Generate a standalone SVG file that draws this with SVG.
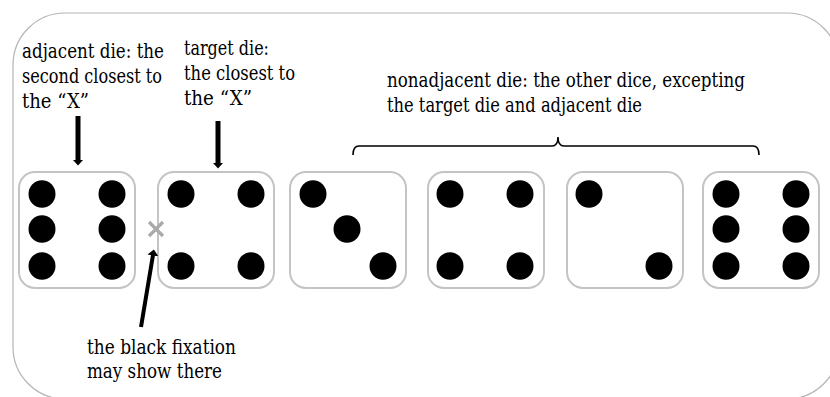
<svg xmlns="http://www.w3.org/2000/svg" width="830" height="397" viewBox="0 0 830 397">
<defs>
<style>
.frame{fill:#fff;stroke:#b4b4b4;stroke-width:1.2}
.die{fill:#fff;stroke:#c4c4c4;stroke-width:2}
.pip{fill:#000}
.lbl{font-family:"DejaVu Serif Condensed","DejaVu Serif",serif;font-stretch:condensed;font-size:21px;fill:#000}
.arr{stroke:#000;stroke-width:5;fill:none}
.arr2{stroke:#000;stroke-width:4;fill:none}
.brace{stroke:#000;stroke-width:1.6;fill:none}
.xmark{stroke:#aaa;stroke-width:3.2;fill:none}
</style>
<marker id="head" viewBox="0 0 6 11" markerWidth="6" markerHeight="11" refX="0.5" refY="5.5" orient="auto" markerUnits="userSpaceOnUse">
<path d="M0,0 L6,5.5 L0,11 z" fill="#000"/>
</marker>
</defs>
<rect class="frame" x="13" y="13" width="826" height="386" rx="52" ry="52"/>

<g id="die-adjacent">
<rect class="die" x="19" y="172" width="116" height="116" rx="16"/>
<ellipse class="pip" cx="42" cy="194" rx="13.5" ry="13.8"/>
<ellipse class="pip" cx="112" cy="194" rx="13.5" ry="13.8"/>
<ellipse class="pip" cx="42" cy="229" rx="13.5" ry="13.8"/>
<ellipse class="pip" cx="112" cy="229" rx="13.5" ry="13.8"/>
<ellipse class="pip" cx="42" cy="266" rx="13.5" ry="13.8"/>
<ellipse class="pip" cx="112" cy="266" rx="13.5" ry="13.8"/>
</g>

<g id="die-target">
<rect class="die" x="158" y="172" width="116" height="116" rx="16"/>
<ellipse class="pip" cx="181" cy="194" rx="13.5" ry="13.8"/>
<ellipse class="pip" cx="251" cy="194" rx="13.5" ry="13.8"/>
<ellipse class="pip" cx="181" cy="266" rx="13.5" ry="13.8"/>
<ellipse class="pip" cx="251" cy="266" rx="13.5" ry="13.8"/>
</g>

<g id="die-3">
<rect class="die" x="290" y="172" width="116" height="116" rx="16"/>
<ellipse class="pip" cx="313" cy="194" rx="13.5" ry="13.8"/>
<ellipse class="pip" cx="347" cy="229" rx="13.5" ry="13.8"/>
<ellipse class="pip" cx="383" cy="266" rx="13.5" ry="13.8"/>
</g>

<g id="die-4">
<rect class="die" x="428" y="172" width="116" height="116" rx="16"/>
<ellipse class="pip" cx="450" cy="194" rx="13.5" ry="13.8"/>
<ellipse class="pip" cx="520" cy="194" rx="13.5" ry="13.8"/>
<ellipse class="pip" cx="450" cy="266" rx="13.5" ry="13.8"/>
<ellipse class="pip" cx="520" cy="266" rx="13.5" ry="13.8"/>
</g>

<g id="die-5">
<rect class="die" x="567" y="172" width="116" height="116" rx="16"/>
<ellipse class="pip" cx="589" cy="194" rx="13.5" ry="13.8"/>
<ellipse class="pip" cx="659" cy="266" rx="13.5" ry="13.8"/>
</g>

<g id="die-6">
<rect class="die" x="703" y="172" width="116" height="116" rx="16"/>
<ellipse class="pip" cx="726" cy="194" rx="13.5" ry="13.8"/>
<ellipse class="pip" cx="796" cy="194" rx="13.5" ry="13.8"/>
<ellipse class="pip" cx="726" cy="229" rx="13.5" ry="13.8"/>
<ellipse class="pip" cx="796" cy="229" rx="13.5" ry="13.8"/>
<ellipse class="pip" cx="726" cy="266" rx="13.5" ry="13.8"/>
<ellipse class="pip" cx="796" cy="266" rx="13.5" ry="13.8"/>
</g>

<g id="fixation-x">
<path class="xmark" d="M149,222 L163,236 M163,222 L149,236"/>
</g>

<g id="label-adjacent">
<text class="lbl" x="22" y="58" textLength="142" lengthAdjust="spacingAndGlyphs">adjacent die: the</text>
<text class="lbl" x="22" y="83" textLength="140" lengthAdjust="spacingAndGlyphs">second closest to</text>
<text class="lbl" x="22" y="108" textLength="67" lengthAdjust="spacingAndGlyphs">the “X”</text>
</g>

<g id="label-target">
<text class="lbl" x="184" y="55" textLength="85" lengthAdjust="spacingAndGlyphs">target die:</text>
<text class="lbl" x="184" y="80" textLength="111" lengthAdjust="spacingAndGlyphs">the closest to</text>
<text class="lbl" x="184" y="105" textLength="68" lengthAdjust="spacingAndGlyphs">the “X”</text>
</g>

<g id="label-nonadjacent">
<text class="lbl" x="387" y="87" textLength="358" lengthAdjust="spacingAndGlyphs">nonadjacent die: the other dice, excepting</text>
<text class="lbl" x="387" y="112" textLength="255" lengthAdjust="spacingAndGlyphs">the target die and adjacent die</text>
</g>

<g id="label-fixation">
<text class="lbl" x="87" y="354" textLength="149" lengthAdjust="spacingAndGlyphs">the black fixation</text>
<text class="lbl" x="87" y="378" textLength="135" lengthAdjust="spacingAndGlyphs">may show there</text>
</g>

<g id="connectors">
<line class="arr" x1="78" y1="116" x2="78" y2="160" marker-end="url(#head)"/>
<line class="arr" x1="218" y1="121" x2="218" y2="163" marker-end="url(#head)"/>
<line class="arr2" x1="141" y1="327" x2="153" y2="255" marker-end="url(#head)"/>
<path class="brace" d="M353,155 Q353,146 359,146 L552,146 Q558,146 558,137 Q558,146 564,146 L753,146 Q759,146 759,155"/>
</g>
</svg>
